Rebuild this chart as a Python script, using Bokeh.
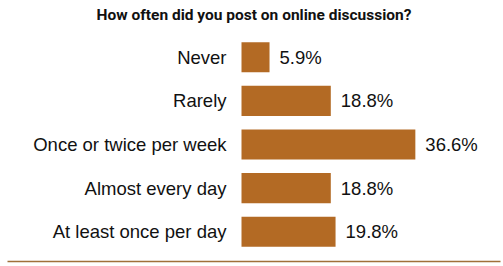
from bokeh.plotting import figure
from bokeh.models import ColumnDataSource, FactorRange, Range1d
from bokeh.core.properties import value
from bokeh.embed import file_html
from bokeh.resources import INLINE

title_text = "How often did you post on online discussion?"
categories = ["Never", "Rarely", "Once or twice per week", "Almost every day", "At least once per day"]
percents = [5.9, 18.8, 36.6, 18.8, 19.8]
labels = [f"{v}%" for v in percents]

BAR = "#B36A24"
LABEL_FONT = "Liberation Sans"

src = ColumnDataSource(dict(cat=categories, pct=percents, lab=labels, zero=[0] * len(categories)))

px_per_pct = 4.75
left_pad = 7
right_pad = 3
W, H = 503, 266
frame_w = W - left_pad - right_pad
bar_left = 241 - left_pad
x_start = -bar_left / px_per_pct
x_end = (frame_w - bar_left) / px_per_pct

p = figure(width=W, height=H, output_backend="svg", toolbar_location=None,
           y_range=FactorRange(factors=list(reversed(categories)), range_padding=0.184,
                               range_padding_units="absolute"),
           x_range=Range1d(x_start, x_end),
           min_border_left=left_pad, min_border_right=right_pad, min_border_top=0, min_border_bottom=5)

p.title.text = title_text
p.title.align = "center"
p.title.text_font = "Roboto"
p.title.text_font_style = "bold"
p.title.text_font_size = "15.5px"
p.title.text_color = "#111111"
p.title.standoff = 7

p.hbar(y="cat", left=0, right="pct", height=0.69, source=src, color=BAR, line_color=None)

p.text(x="zero", y="cat", text="cat", source=src, x_offset=-15, text_align="right",
       text_baseline="middle", text_font=value(LABEL_FONT), text_font_size="18.5px", text_color="#111111")
p.text(x="pct", y="cat", text="lab", source=src, x_offset=10, text_align="left",
       text_baseline="middle", text_font=value(LABEL_FONT), text_font_size="18.5px", text_color="#111111")

p.yaxis.visible = False
p.xaxis.ticker = []
p.xaxis.major_tick_out = 0
p.xaxis.major_tick_in = 0
p.xaxis.major_label_standoff = 0
p.xaxis.axis_line_color = "#A0703A"
p.xaxis.axis_line_width = 1.5
p.grid.visible = False
p.outline_line_color = None
p.background_fill_color = "white"
p.border_fill_color = "white"

open("out.html", "w").write(file_html(p, INLINE))
